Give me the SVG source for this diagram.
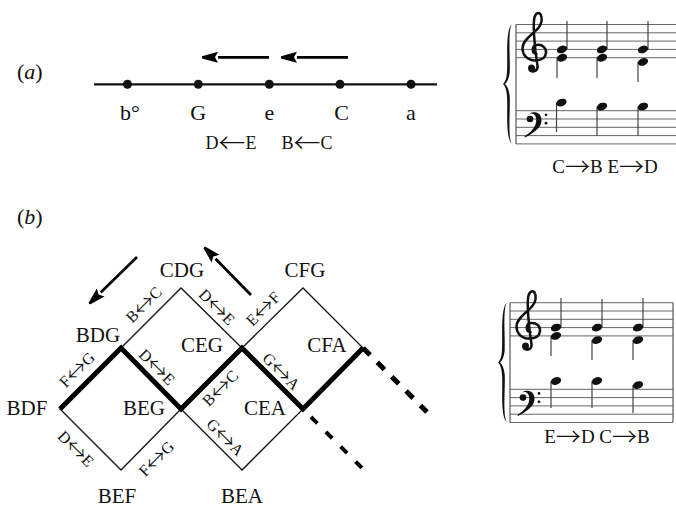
<svg xmlns="http://www.w3.org/2000/svg" width="676" height="507" viewBox="0 0 676 507">
<style>
text { font-family: "Liberation Serif", "DejaVu Serif", serif; fill: #111; }
.lbl { font-size: 22px; text-anchor: middle; }
.par { font-size: 22px; }
.vx { font-size: 21px; text-anchor: middle; }
.edge { font-size: 16px; text-anchor: middle; }
.sub { font-size: 18px; text-anchor: middle; }
.mus { font-size: 19px; text-anchor: middle; }
.ar { font-family: "Noto Sans CJK JP", "Noto Sans CJK SC", sans-serif; font-weight: 300; }
.edge .ar { font-size: 22px; }
.sub .ar { font-size: 27px; }
.mus .ar { font-size: 25px; }
.thin { stroke: #111; stroke-width: 1.3; fill: none; stroke-linejoin: miter; }
.thick { stroke: #000; stroke-width: 5; fill: none; stroke-linejoin: miter; stroke-linecap: butt; }
.staff { stroke: #666; stroke-width: 1; }
.bar { stroke: #555; stroke-width: 1.2; }
.stem { stroke: #444; stroke-width: 1.2; }
.arrow { stroke: #000; stroke-width: 2.7; fill: none; marker-end: url(#ah); }
.ink { fill: #111; }
</style>
<defs>
  <marker id="ah" viewBox="-16 -7 17 14" markerWidth="17" markerHeight="14" refX="-15" refY="0" orient="auto" markerUnits="userSpaceOnUse">
    <path d="M0,0 L-20,-5.5 L-17,0 L-20,5.5 Z" fill="#000" transform="translate(5,0)"/>
  </marker>
  <path id="brace" class="ink" d="M512,24 C505,30 508,60 507,72 C506.5,79 505,82 503,84 C505,86 506.5,89 507,96 C508,108 505,138 512,144 C507.5,138 510.5,108 509.7,96 C509,90 507.5,86 505,84 C507.5,82 509,78 509.7,72 C510.5,60 507.5,30 512,24 Z"/>
  <g id="gclef">
    <path d="M1.5,4.5 C-3.5,4 -3.5,-3.5 1.5,-4.5 C7.5,-5.5 11.5,-1 11,3.5 C10.5,8.5 6,11 0,11 C-8,11 -12.5,5 -12.5,-1 C-12.5,-8 -5,-13.5 0,-18 C5,-22.5 7.5,-27 6.5,-32 C5.5,-38 1,-37.5 -0.5,-32 C-2,-26 -1,-12 0.5,2 L2.5,16.5 C3,21.5 -1.5,23.5 -5,21" fill="none" stroke="#111" stroke-width="2.5" stroke-linecap="round"/>
    <circle cx="-3.5" cy="18.5" r="3.5" fill="#111"/>
  </g>
  <g id="fclef">
    <path class="ink" d="M-3.2,-1.5 C-2,-6.5 4.5,-8.3 8.5,-5.5 C12.5,-2.5 12.5,4.5 8.5,9 C5,13 0,16 -5,18.5 L-5.5,17.3 C-1,14.5 3.5,10.5 5.5,5.5 C7,1 6.5,-4.5 2,-5.5 C-0.5,-6 -2.5,-4 -3.2,-1.5 Z"/>
    <circle cx="0" cy="0" r="3.3" fill="#111"/>
    <circle cx="16" cy="-4.2" r="1.4" fill="#111"/>
    <circle cx="16" cy="4.2" r="1.4" fill="#111"/>
  </g>
  <ellipse id="nh" cx="0" cy="0" rx="5.3" ry="3.7" transform="rotate(-20)" fill="#111"/>
</defs>

<!-- ===== Part (a) ===== -->
<g id="part-a">
  <text class="par" x="17" y="79">(<tspan font-style="italic">a</tspan>)</text>
  <g id="a-line">
    <line x1="94" y1="84.3" x2="437" y2="84.3" stroke="#111" stroke-width="2.2"/>
  </g>
  <g id="a-arrows">
    <line class="arrow" x1="269" y1="57.3" x2="218" y2="57.3"/>
    <line class="arrow" x1="348" y1="57.3" x2="297" y2="57.3"/>
  </g>
  <g id="node-bdim"><circle cx="127.5" cy="84.3" r="4.5" fill="#111"/><text class="lbl" x="130" y="120">b°</text></g>
  <g id="node-G"><circle cx="198.3" cy="84.3" r="4.5" fill="#111"/><text class="lbl" x="198.3" y="120">G</text></g>
  <g id="node-e"><circle cx="269.3" cy="84.3" r="4.5" fill="#111"/><text class="lbl" x="269.5" y="120">e</text></g>
  <g id="node-C"><circle cx="340" cy="84.3" r="4.5" fill="#111"/><text class="lbl" x="341.5" y="120">C</text></g>
  <g id="node-a"><circle cx="411" cy="84.3" r="4.5" fill="#111"/><text class="lbl" x="411" y="120">a</text></g>
  <text class="sub" x="231" y="149">D<tspan class="ar" dy="4">←</tspan><tspan dy="-4">E</tspan></text>
  <text class="sub" x="307" y="149">B<tspan class="ar" dy="4">←</tspan><tspan dy="-4">C</tspan></text>
</g>

<!-- ===== Score (a) ===== -->
<g id="score-a">
  <use href="#brace"/>
  <g class="staff">
    <line x1="516" y1="24.5" x2="676" y2="24.5"/>
    <line x1="516" y1="32.8" x2="676" y2="32.8"/>
    <line x1="516" y1="41.1" x2="676" y2="41.1"/>
    <line x1="516" y1="49.4" x2="676" y2="49.4"/>
    <line x1="516" y1="57.7" x2="676" y2="57.7"/>
    <line x1="516" y1="110.7" x2="676" y2="110.7"/>
    <line x1="516" y1="119" x2="676" y2="119"/>
    <line x1="516" y1="127.3" x2="676" y2="127.3"/>
    <line x1="516" y1="135.6" x2="676" y2="135.6"/>
    <line x1="516" y1="143.9" x2="676" y2="143.9"/>
  </g>
  <line class="bar" x1="516" y1="24.5" x2="516" y2="143.9"/>
  <use href="#gclef" transform="translate(535,49.4)"/>
  <use href="#fclef" transform="translate(530,119)"/>
  <g class="stem">
    <line x1="567" y1="49.4" x2="567" y2="21"/>
    <line x1="557" y1="57.7" x2="557" y2="78"/>
    <line x1="607" y1="49.4" x2="607" y2="21"/>
    <line x1="597" y1="57.7" x2="597" y2="78"/>
    <line x1="648" y1="49.4" x2="648" y2="21"/>
    <line x1="638" y1="61.9" x2="638" y2="82"/>
    <line x1="556.5" y1="102.4" x2="556.5" y2="132"/>
    <line x1="597" y1="106.5" x2="597" y2="136"/>
    <line x1="638" y1="106.5" x2="638" y2="136"/>
  </g>
  <use href="#nh" x="562" y="49.4"/>
  <use href="#nh" x="562" y="57.7"/>
  <use href="#nh" x="602" y="49.4"/>
  <use href="#nh" x="602" y="57.7"/>
  <use href="#nh" x="643" y="49.4"/>
  <use href="#nh" x="643" y="61.9"/>
  <use href="#nh" x="561.5" y="102.6"/>
  <use href="#nh" x="602" y="106.6"/>
  <use href="#nh" x="643" y="106.6"/>
  <text class="mus" x="605" y="173">C<tspan class="ar" dy="3">→</tspan><tspan dy="-3">B E</tspan><tspan class="ar" dy="3">→</tspan><tspan dy="-3">D</tspan></text>
</g>

<!-- ===== Part (b) ===== -->
<g id="part-b">
  <text class="par" x="17" y="224">(<tspan font-style="italic">b</tspan>)</text>

  <g id="connectors">
    <polygon class="thin" points="121,348 181,288 242,348 181,409"/>
    <polygon class="thin" points="60,409 121,348 181,409 121,470"/>
    <polygon class="thin" points="242,348 303,288 363,348 303,409"/>
    <polygon class="thin" points="181,409 242,348 303,409 242,470"/>
    <polyline class="thick" points="60,409 121,348 181,409 242,348 303,409 363,348"/>
    <line x1="363" y1="348" x2="427" y2="412" stroke="#000" stroke-width="5" stroke-dasharray="10 10.3"/>
    <line x1="311" y1="417" x2="364" y2="470" stroke="#000" stroke-width="4" stroke-dasharray="9 12"/>
    <line class="arrow" x1="137" y1="257" x2="100.7" y2="292.5"/>
    <line class="arrow" x1="251" y1="295" x2="215.5" y2="258.7"/>
  </g>

  <g id="edge-labels">
    <text class="edge" transform="translate(144,305) rotate(-45)" y="5">B<tspan class="ar" dy="3">↔</tspan><tspan dy="-3">C</tspan></text>
    <text class="edge" transform="translate(216.7,307.3) rotate(45)" y="5">D<tspan class="ar" dy="3">↔</tspan><tspan dy="-3">E</tspan></text>
    <text class="edge" transform="translate(263.3,309) rotate(-45)" y="5">E<tspan class="ar" dy="3">↔</tspan><tspan dy="-3">F</tspan></text>
    <text class="edge" transform="translate(77.3,370) rotate(-45)" y="5">F<tspan class="ar" dy="3">↔</tspan><tspan dy="-3">G</tspan></text>
    <text class="edge" transform="translate(156.7,367.3) rotate(45)" y="5">D<tspan class="ar" dy="3">↔</tspan><tspan dy="-3">E</tspan></text>
    <text class="edge" transform="translate(220.5,388.5) rotate(-45)" y="5">B<tspan class="ar" dy="3">↔</tspan><tspan dy="-3">C</tspan></text>
    <text class="edge" transform="translate(281,371.7) rotate(45)" y="5">G<tspan class="ar" dy="3">↔</tspan><tspan dy="-3">A</tspan></text>
    <text class="edge" transform="translate(75.7,449) rotate(45)" y="5">D<tspan class="ar" dy="3">↔</tspan><tspan dy="-3">E</tspan></text>
    <text class="edge" transform="translate(156.7,459) rotate(-45)" y="5">F<tspan class="ar" dy="3">↔</tspan><tspan dy="-3">G</tspan></text>
    <text class="edge" transform="translate(225,437.5) rotate(45)" y="5">G<tspan class="ar" dy="3">↔</tspan><tspan dy="-3">A</tspan></text>
  </g>

  <g id="node-CDG"><text class="vx" x="182" y="277">CDG</text></g>
  <g id="node-CFG"><text class="vx" x="305" y="277">CFG</text></g>
  <g id="node-BDG"><text class="vx" x="98" y="342">BDG</text></g>
  <g id="node-CEG"><text class="vx" x="202" y="352">CEG</text></g>
  <g id="node-CFA"><text class="vx" x="327" y="352">CFA</text></g>
  <g id="node-BDF"><text class="vx" x="27" y="415">BDF</text></g>
  <g id="node-BEG"><text class="vx" x="144" y="415">BEG</text></g>
  <g id="node-CEA"><text class="vx" x="265" y="415">CEA</text></g>
  <g id="node-BEF"><text class="vx" x="117" y="503">BEF</text></g>
  <g id="node-BEA"><text class="vx" x="242" y="503">BEA</text></g>
</g>

<!-- ===== Score (b) ===== -->
<g id="score-b">
  <use href="#brace" transform="translate(-5,278.5)"/>
  <g class="staff">
    <line x1="510" y1="302.7" x2="673" y2="302.7"/>
    <line x1="510" y1="311" x2="673" y2="311"/>
    <line x1="510" y1="319.3" x2="673" y2="319.3"/>
    <line x1="510" y1="327.6" x2="673" y2="327.6"/>
    <line x1="510" y1="335.9" x2="673" y2="335.9"/>
    <line x1="510" y1="389.3" x2="673" y2="389.3"/>
    <line x1="510" y1="397.6" x2="673" y2="397.6"/>
    <line x1="510" y1="405.9" x2="673" y2="405.9"/>
    <line x1="510" y1="414.2" x2="673" y2="414.2"/>
    <line x1="510" y1="422.5" x2="673" y2="422.5"/>
  </g>
  <line class="bar" x1="510" y1="302.7" x2="510" y2="422.5"/>
  <line class="bar" x1="673" y1="302.7" x2="673" y2="422.5"/>
  <use href="#gclef" transform="translate(529,327.6)"/>
  <use href="#fclef" transform="translate(523,397.6)"/>
  <g class="stem">
    <line x1="561" y1="327.6" x2="561" y2="298"/>
    <line x1="551" y1="335.9" x2="551" y2="356"/>
    <line x1="602" y1="327.6" x2="602" y2="299"/>
    <line x1="592" y1="340.1" x2="592" y2="360"/>
    <line x1="643" y1="327.6" x2="643" y2="298"/>
    <line x1="633" y1="340.1" x2="633" y2="360"/>
    <line x1="551" y1="381" x2="551" y2="408"/>
    <line x1="592" y1="381" x2="592" y2="408"/>
    <line x1="633" y1="385.1" x2="633" y2="413"/>
  </g>
  <use href="#nh" x="556" y="327.6"/>
  <use href="#nh" x="556" y="335.9"/>
  <use href="#nh" x="597" y="327.6"/>
  <use href="#nh" x="597" y="340.1"/>
  <use href="#nh" x="638" y="327.6"/>
  <use href="#nh" x="638" y="340.1"/>
  <use href="#nh" x="556" y="381"/>
  <use href="#nh" x="597" y="381"/>
  <use href="#nh" x="638" y="385.1"/>
  <text class="mus" x="597" y="443">E<tspan class="ar" dy="3">→</tspan><tspan dy="-3">D C</tspan><tspan class="ar" dy="3">→</tspan><tspan dy="-3">B</tspan></text>
</g>
</svg>
